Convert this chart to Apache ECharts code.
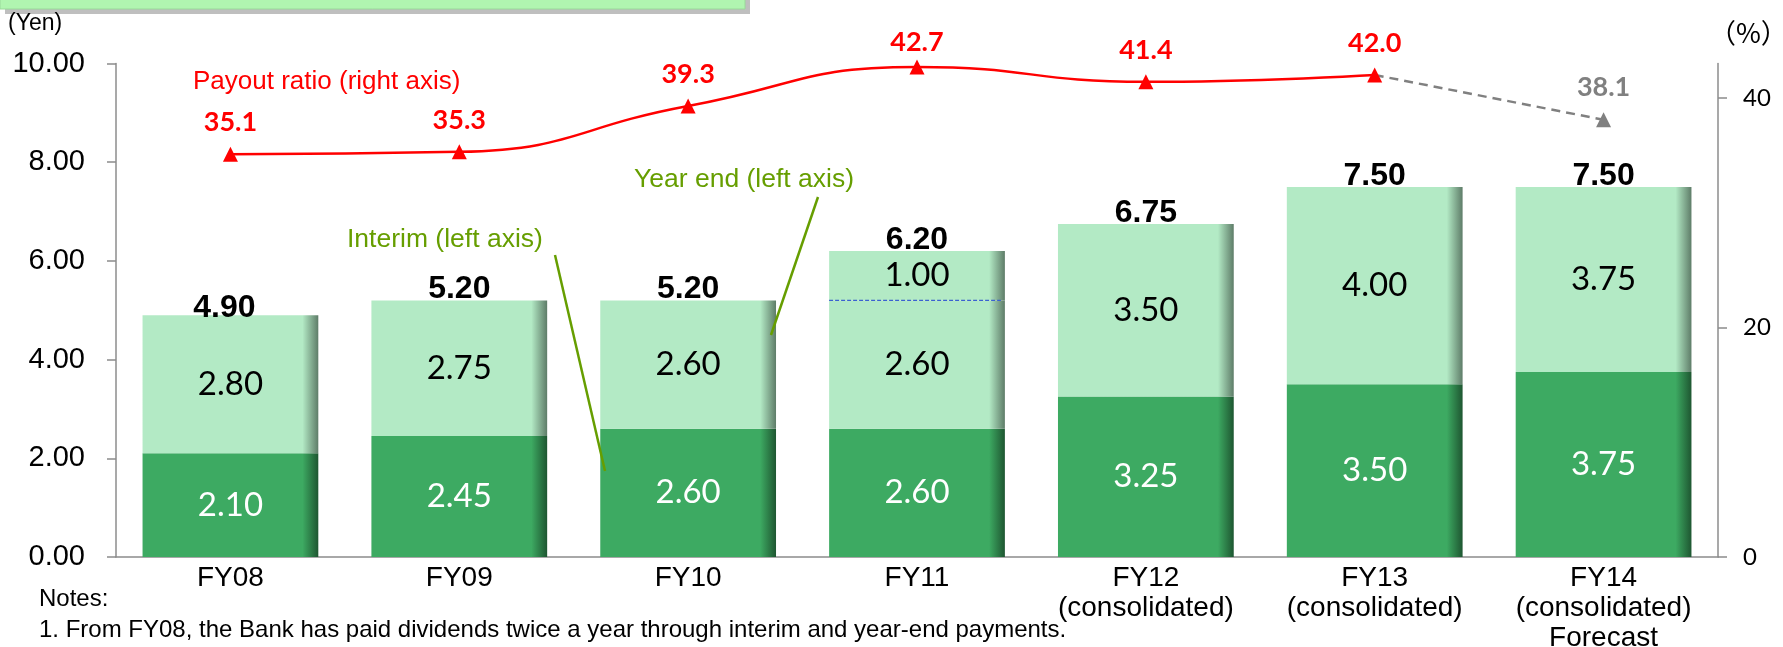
<!DOCTYPE html>
<html><head><meta charset="utf-8">
<script src="https://cdn.jsdelivr.net/npm/echarts@6/dist/echarts.min.js"></script>
<style>html,body{margin:0;padding:0;background:#fff;}#c{width:1783px;height:647px;}</style>
</head><body><div id="c"></div>
<script>
// ---- data ----
const categories = ['FY08','FY09','FY10','FY11','FY12\n(consolidated)','FY13\n(consolidated)','FY14\n(consolidated)\nForecast'];
const interim = [2.10, 2.45, 2.60, 2.60, 3.25, 3.50, 3.75];
const yearEnd = [2.80, 2.75, 2.60, 2.60, 3.50, 4.00, 3.75];
const yearEndExtra = [null, null, null, 1.00, null, null, null];
const totals = [4.90, 5.20, 5.20, 6.20, 6.75, 7.50, 7.50];
const payout = [35.1, 35.3, 39.3, 42.7, 41.4, 42.0, null];
const payoutForecast = [null, null, null, null, null, 42.0, 38.1];
const yenAxis = {min: 0, max: 10, interval: 2};
const pctAxis = {min: 0, max: 43, interval: 20};

// ---- chart ----
const chart = echarts.init(document.getElementById('c'));
const BW = 0.768;
function grad(base, dark) {
  return new echarts.graphic.LinearGradient(0, 0, 1, 0, [
    {offset: 0, color: base}, {offset: 0.91, color: base}, {offset: 1, color: dark}
  ]);
}
const DARK = grad('#3DAA62', '#1E5631');
const LIGHT = grad('#B3EAC5', '#5E7C68');
const AX = '#8C8C8C';
const OLIVE = '#669E00';
const ARIAL = '"Liberation Sans", Arial';

const payoutData = payout.map((v, i) => {
  if (v == null) return null;
  const d = {value: v};
  if (i === 3) d.label = {offset: [0, -25]};
  return d;
});
const fcData = payoutForecast.map((v, i) => {
  if (v == null) return null;
  if (i === payoutForecast.length - 1) return {value: v};
  return {value: v, symbol: 'none', label: {show: false}};
});
const totalData = totals.map((v, i) => i === 0 ? {value: v, label: {offset: [-6, -7]}} : v);
const dividerData = yearEndExtra.map((v, i) => v == null ? null : [i, interim[i] + yearEnd[i]]).filter(d => d);

chart.setOption({
  animation: false,
  grid: {left: 116, right: 65, top: 63.5, bottom: 90, containLabel: false, outerBoundsMode: 'none'},
  xAxis: {
    type: 'category', data: categories,
    axisLine: {lineStyle: {color: AX, width: 1.5}},
    axisTick: {length: 8, lineStyle: {color: AX, width: 1.5}},
    axisLabel: {color: '#000', fontFamily: ARIAL, fontSize: 28, lineHeight: 30, margin: 6, interval: 0}
  },
  yAxis: [{
    type: 'value', min: yenAxis.min, max: yenAxis.max, interval: yenAxis.interval,
    splitLine: {show: false},
    axisLine: {show: true, lineStyle: {color: AX, width: 1.5}},
    axisTick: {show: true, length: 9, lineStyle: {color: AX, width: 1.5}},
    axisLabel: {color: '#000', fontFamily: ARIAL, fontSize: 29, margin: 31, formatter: v => v.toFixed(2)}
  }, {
    type: 'value', min: pctAxis.min, max: pctAxis.max, interval: pctAxis.interval,
    position: 'right',
    splitLine: {show: false},
    axisLine: {show: true, lineStyle: {color: AX, width: 1.5}},
    axisTick: {show: true, length: 9, lineStyle: {color: AX, width: 1.5}},
    axisLabel: {color: '#000', fontFamily: 'Lato', fontSize: 24, margin: 25, align: 'left', showMaxLabel: false}
  }],
  series: [{
    name: 'Interim', type: 'bar', stack: 'd', barWidth: (BW * 100) + '%', data: interim,
    itemStyle: {color: DARK},
    label: {show: true, position: 'inside', color: '#fff', fontFamily: 'Lato', fontSize: 33, formatter: p => p.value.toFixed(2)}
  }, {
    name: 'Year end', type: 'bar', stack: 'd', barWidth: (BW * 100) + '%', data: yearEnd,
    itemStyle: {color: LIGHT},
    label: {show: true, position: 'inside', color: '#000', fontFamily: 'Lato', fontSize: 33, formatter: p => p.value.toFixed(2)}
  }, {
    name: 'Year end extra', type: 'bar', stack: 'd', barWidth: (BW * 100) + '%', data: yearEndExtra,
    itemStyle: {color: LIGHT},
    label: {show: true, position: 'inside', color: '#000', fontFamily: 'Lato', fontSize: 33, formatter: p => p.value == null ? '' : p.value.toFixed(2)}
  }, {
    name: 'divider', type: 'custom', data: dividerData, z: 5,
    renderItem: (params, api) => {
      const p = api.coord([api.value(0), api.value(1)]);
      const w = api.size([1, 0])[0] * BW;
      return {type: 'line', shape: {x1: p[0] - w / 2, y1: p[1], x2: p[0] + w / 2 - 4, y2: p[1]},
        style: {stroke: '#3A62D0', lineWidth: 1.3, lineDash: [4, 2]}};
    }
  }, {
    name: 'Total', type: 'scatter', data: totalData, symbolSize: 1, itemStyle: {color: 'transparent', opacity: 1}, z: 6,
    label: {show: true, position: 'inside', offset: [0, -11], color: '#000', opacity: 1, fontFamily: ARIAL, fontWeight: 'bold', fontSize: 32, formatter: p => p.value.toFixed(2)}
  }, {
    name: 'Payout forecast', type: 'line', yAxisIndex: 1, data: fcData,
    lineStyle: {color: '#808080', width: 2.5, type: [9, 6]},
    itemStyle: {color: '#808080'}, symbol: 'triangle', symbolSize: 15,
    label: {show: true, position: 'inside', offset: [0, -32], color: '#808080', fontFamily: 'Lato', fontWeight: 'bold', fontSize: 27, formatter: p => p.value.toFixed(1)},
    z: 3
  }, {
    name: 'Payout ratio', type: 'line', yAxisIndex: 1, data: payoutData, smooth: 0.5,
    lineStyle: {color: '#FF0000', width: 2.5},
    itemStyle: {color: '#FF0000'}, symbol: 'triangle', symbolSize: 15,
    label: {show: true, position: 'inside', offset: [0, -32], color: '#FF0000', fontFamily: 'Lato', fontWeight: 'bold', fontSize: 27, formatter: p => p.value.toFixed(1)},
    z: 4
  }],
  graphic: [
    {type: 'rect', shape: {x: 5, y: -10, width: 745, height: 24}, style: {fill: '#BFBFBF'}, z: 1},
    {type: 'rect', shape: {x: 0, y: -10, width: 745, height: 19}, style: {fill: '#B0F5B0', stroke: '#9AD89A', lineWidth: 1}, z: 2},
    {type: 'text', x: 8, y: 24, z: 5, style: {text: '(Yen)', fill: '#000', font: '23px "Liberation Sans", Arial', textVerticalAlign: 'middle'}},
    {type: 'text', x: 1709, y: 33, style: {text: '（%）', fill: '#000', font: '27px "Noto Sans CJK JP"', textVerticalAlign: 'middle'}},
    {type: 'text', x: 193, y: 82, style: {text: 'Payout ratio (right axis)', fill: '#FF0000', font: '26px "Liberation Sans", Arial', textVerticalAlign: 'middle'}},
    {type: 'text', x: 634, y: 180, style: {text: 'Year end (left axis)', fill: OLIVE, font: '26.5px "Liberation Sans", Arial', textVerticalAlign: 'middle'}},
    {type: 'text', x: 347, y: 240, style: {text: 'Interim (left axis)', fill: OLIVE, font: '26.5px "Liberation Sans", Arial', textVerticalAlign: 'middle'}},
    {type: 'line', shape: {x1: 555, y1: 255, x2: 605, y2: 471}, style: {stroke: OLIVE, lineWidth: 2.5}, z: 10},
    {type: 'line', shape: {x1: 818, y1: 197, x2: 771, y2: 335}, style: {stroke: OLIVE, lineWidth: 2.5}, z: 10},
    {type: 'text', x: 39, y: 599, style: {text: 'Notes:', fill: '#000', font: '24px "Liberation Sans", Arial', textVerticalAlign: 'middle'}},
    {type: 'text', x: 39, y: 630, style: {text: '1. From FY08, the Bank has paid dividends twice a year through interim and year-end payments.', fill: '#000', font: '24px "Liberation Sans", Arial', textVerticalAlign: 'middle'}}
  ]
});
</script></body></html>
